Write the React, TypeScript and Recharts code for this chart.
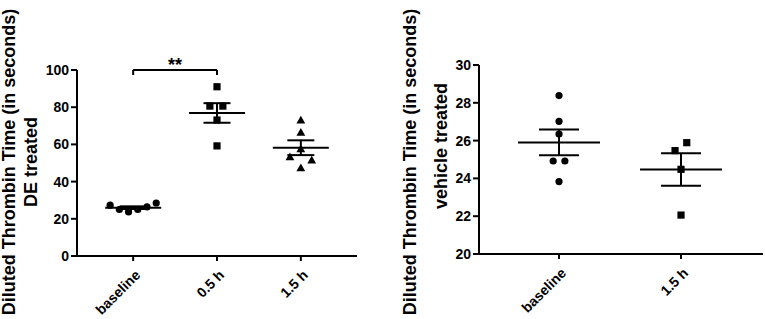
import { ComposedChart, Scatter, XAxis, YAxis, ErrorBar, ReferenceLine } from 'recharts';

// DE treated panel
const deCategories = ['baseline', '0.5 h', '1.5 h'];
const deBaseline = [27.3, 25.0, 23.7, 25.0, 26.4, 28.5];
const deHalfHour = [91.0, 80.6, 80.6, 73.1, 59.2];
const deOneHalfHour = [73.0, 66.5, 57.6, 53.3, 51.5, 47.4];
const deTicks = [0, 20, 40, 60, 80, 100];

// vehicle treated panel
const vehCategories = ['baseline', '1.5 h'];
const vehBaseline = [28.38, 27.02, 26.35, 24.92, 24.92, 23.83];
const vehOneHalfHour = [25.89, 25.47, 24.48, 22.06];
const vehTicks = [20, 22, 24, 26, 28, 30];

// horizontal spread of the dots inside each column (category units, layout only)
const spreadDeBaseline = [-0.275, -0.165, -0.055, 0.055, 0.165, 0.275];
const spreadDeHalf = [0, -0.085, 0.07, 0, 0];
const spreadDeOneHalf = [0, 0, 0, -0.13, 0.13, 0];
const spreadVehBaseline = [0, 0, 0, -0.048, 0.048, 0];
const spreadVehOneHalf = [0.047, -0.049, 0, 0];

const FONT = '"Liberation Sans", Arial, Helvetica, sans-serif';

const mean = (v: number[]) => v.reduce((a, b) => a + b, 0) / v.length;
const sem = (v: number[]) => {
    const m = mean(v);
    const sd = Math.sqrt(v.reduce((a, b) => a + (b - m) * (b - m), 0) / (v.length - 1));
    return sd / Math.sqrt(v.length);
};

const points = (values: number[], index: number, spread: number[]) =>
    values.map((y, i) => ({ x: index + spread[i], y }));
const summary = (values: number[], index: number) => [{ x: index, y: mean(values), err: sem(values) }];

const Dot = (p: any) => <circle cx={p.cx} cy={p.cy} r={3.6} fill="#000" />;
const Square = (p: any) => <rect x={p.cx - 3.6} y={p.cy - 3.6} width={7.2} height={7.2} fill="#000" />;
const Triangle = (p: any) => (
    <polygon points={`${p.cx},${p.cy - 4.4} ${p.cx + 4.4},${p.cy + 3.4} ${p.cx - 4.4},${p.cy + 3.4}`} fill="#000" />
);
const meanLine = (half: number) => (p: any) => (
    <line x1={p.cx - half} x2={p.cx + half} y1={p.cy} y2={p.cy} stroke="#000" strokeWidth={2} />
);

const tickStyle = { fill: '#000', fontSize: 14, fontWeight: 700, fontFamily: FONT };

const angledTick = (labels: string[]) => (p: any) => (
    <g transform={`translate(${p.x + 8},${p.y + 13})`}>
        <text textAnchor="end" transform="rotate(-45)" {...tickStyle}>
            {labels[p.payload.value]}
        </text>
    </g>
);

const title = (line2: string, x1: number, x2: number, y1: number, y2: number) => () => (
    <g fontFamily={FONT} fontWeight={700} fontSize={18} fill="#000">
        <text transform={`translate(${x1},${y1}) rotate(-90)`} textAnchor="middle">
            Diluted Thrombin Time (in seconds)
        </text>
        <text transform={`translate(${x2},${y2}) rotate(-90)`} textAnchor="middle">
            {line2}
        </text>
    </g>
);

const Stars = (p: any) => {
    const vb = p.viewBox || {};
    return (
        <text x={vb.x + vb.width / 2} y={vb.y + 1} textAnchor="middle" fontFamily={FONT} fontWeight={700} fontSize={18} fill="#000">
            **
        </text>
    );
};

const axisLine = { stroke: '#000', strokeWidth: 2 };

function DEPanel() {
    const groups = [
        { values: deBaseline, spread: spreadDeBaseline, shape: Dot },
        { values: deHalfHour, spread: spreadDeHalf, shape: Square },
        { values: deOneHalfHour, spread: spreadDeOneHalf, shape: Triangle },
    ];
    return (
        <ComposedChart width={360} height={319} margin={{ top: 70, right: 3, bottom: 0, left: 0 }}>
            <XAxis
                type="number"
                dataKey="x"
                domain={[-0.67, 2.67]}
                ticks={[0, 1, 2]}
                allowDataOverflow
                height={63}
                axisLine={axisLine}
                tickLine={axisLine}
                tickSize={5}
                tickMargin={2}
                tick={angledTick(deCategories)}
                interval={0}
            />
            <YAxis
                type="number"
                dataKey="y"
                domain={[0, 100]}
                ticks={deTicks}
                width={77}
                axisLine={axisLine}
                tickLine={axisLine}
                tickSize={6}
                tickMargin={2}
                tick={tickStyle}
                interval={0}
                label={{ content: title('DE treated', 15, 37, 162, 162) }}
            />
            {groups.map((g, i) => (
                <Scatter key={'pts' + i} data={points(g.values, i, g.spread)} shape={g.shape} isAnimationActive={false} />
            ))}
            {groups.map((g, i) => (
                <Scatter key={'mean' + i} data={summary(g.values, i)} shape={meanLine(28)} isAnimationActive={false}>
                    <ErrorBar dataKey="err" direction="y" width={13.5} stroke="#000" strokeWidth={2} isAnimationActive={false} />
                </Scatter>
            ))}
            <ReferenceLine
                segment={[{ x: 0, y: 100 }, { x: 1, y: 100 }]}
                stroke="#000"
                strokeWidth={2}
                ifOverflow="visible"
                label={{ content: Stars }}
            />
            <ReferenceLine segment={[{ x: 0, y: 100 }, { x: 0, y: 97.3 }]} stroke="#000" strokeWidth={2} ifOverflow="visible" />
            <ReferenceLine segment={[{ x: 1, y: 100 }, { x: 1, y: 97.3 }]} stroke="#000" strokeWidth={2} ifOverflow="visible" />
        </ComposedChart>
    );
}

function VehiclePanel() {
    const groups = [
        { values: vehBaseline, spread: spreadVehBaseline, shape: Dot },
        { values: vehOneHalfHour, spread: spreadVehOneHalf, shape: Square },
    ];
    return (
        <ComposedChart width={365} height={319} margin={{ top: 65, right: 2, bottom: 0, left: 0 }}>
            <XAxis
                type="number"
                dataKey="x"
                domain={[-0.656, 1.672]}
                ticks={[0, 1]}
                allowDataOverflow
                height={65}
                axisLine={axisLine}
                tickLine={axisLine}
                tickSize={5}
                tickMargin={2}
                tick={angledTick(vehCategories)}
                interval={0}
            />
            <YAxis
                type="number"
                dataKey="y"
                domain={[20, 30]}
                ticks={vehTicks}
                width={79}
                axisLine={axisLine}
                tickLine={axisLine}
                tickSize={6}
                tickMargin={2}
                tick={tickStyle}
                interval={0}
                label={{ content: title('vehicle treated', 16, 47, 162, 146) }}
            />
            {groups.map((g, i) => (
                <Scatter key={'pts' + i} data={points(g.values, i, g.spread)} shape={g.shape} isAnimationActive={false} />
            ))}
            {groups.map((g, i) => (
                <Scatter key={'mean' + i} data={summary(g.values, i)} shape={meanLine(41)} isAnimationActive={false}>
                    <ErrorBar dataKey="err" direction="y" width={20} stroke="#000" strokeWidth={2} isAnimationActive={false} />
                </Scatter>
            ))}
        </ComposedChart>
    );
}

export default function App() {
    return (
        <div style={{ position: 'absolute', left: 0, top: 0, width: 765, height: 319, background: '#fff', overflow: 'hidden' }}>
            <div style={{ position: 'absolute', left: 0, top: 0 }}>
                <DEPanel />
            </div>
            <div style={{ position: 'absolute', left: 400, top: 0 }}>
                <VehiclePanel />
            </div>
        </div>
    );
}
